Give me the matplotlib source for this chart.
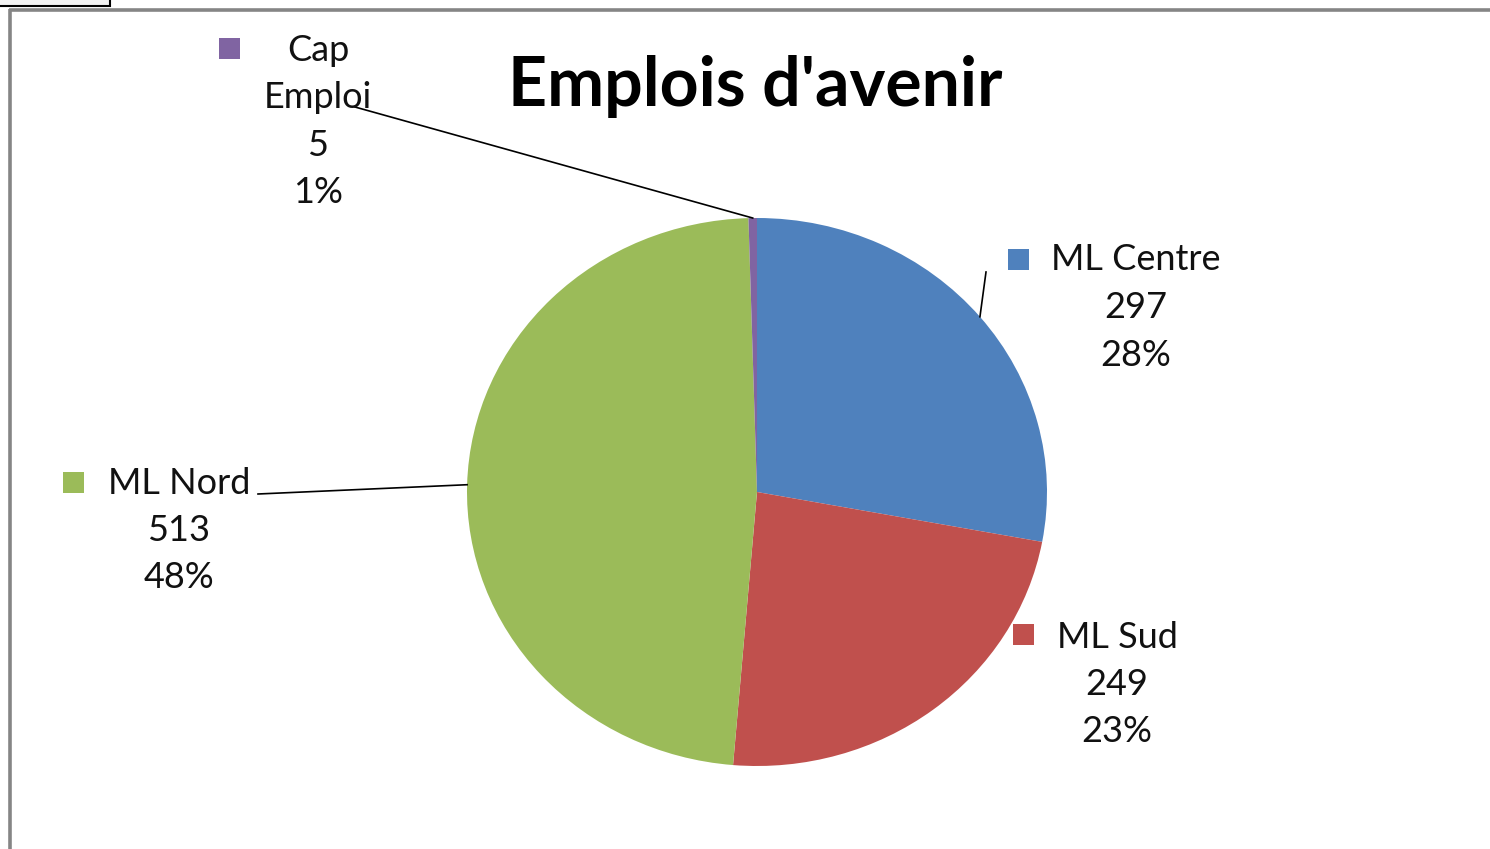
import numpy as np
import matplotlib
matplotlib.use('Agg')
import matplotlib.pyplot as plt
from matplotlib.patches import Rectangle

plt.rcParams['font.family'] = ['Lato', 'DejaVu Sans']

# data
names = ['ML Centre', 'ML Sud', 'ML Nord', 'Cap\nEmploi']
values = [297, 249, 513, 5]
pct_labels = ['28%', '23%', '48%', '1%']
colors = ['#4F81BD', '#C0504D', '#9BBB59', '#8064A2']
title = "Emplois d'avenir"

W, H = 1490, 849
fig = plt.figure(figsize=(W / 100, H / 100), dpi=100)

# pie, slightly wider than tall like the original
cx, cy, rx, ry = 757, 492, 290, 274
ax = fig.add_axes([(cx - rx) / W, 1 - (cy + ry) / H, 2 * rx / W, 2 * ry / H])
wedges, _ = ax.pie(values, colors=colors, startangle=90, counterclock=False,
                   wedgeprops=dict(linewidth=0))
ax.set_aspect('auto'); ax.set_xlim(-1, 1); ax.set_ylim(-1, 1)

# overlay in pixel coords (y down) for labels, leaders and frame
ov = fig.add_axes([0, 0, 1, 1], zorder=2)
ov.set_xlim(0, W); ov.set_ylim(H, 0); ov.axis('off')

# frame bits
ov.plot([9, W], [9.5, 9.5], color='#858585', lw=2.6, solid_capstyle='butt')
ov.plot([10, 10], [9, H], color='#858585', lw=2.6, solid_capstyle='butt')
ov.add_patch(Rectangle((-2, -4), 112, 10, fc='#f2f2f2', ec='black', lw=1.5))

ov.text(755, 86, title, ha='center', va='center', fontsize=49, fontweight='bold')

# label layout: text centre x, first line y, marker centre, leader end (or None)
layout = [
    dict(tx=1136, ty=260, mk=(1018, 259), lead=(986, 272)),
    dict(tx=1117, ty=637, mk=(1023, 634), lead=None),
    dict(tx=179, ty=483, mk=(73, 482), lead=(258, 494)),
    dict(tx=318, ty=50, mk=(229, 48), lead=(355, 107)),
]
pitch = 47.5
sq = 21
for w, name, v, p, col, lay in zip(wedges, names, values, pct_labels, colors, layout):
    lines = name.split('\n') + [str(v), p]
    for i, s in enumerate(lines):
        ov.text(lay['tx'], lay['ty'] + i * pitch, s, ha='center', va='center',
                fontsize=26, color='#111111')
    mx, my = lay['mk']
    ov.add_patch(Rectangle((mx - sq / 2, my - sq / 2), sq, sq, fc=col, ec='none'))
    if lay['lead'] is not None:
        th = np.deg2rad((w.theta1 + w.theta2) / 2)
        axp = cx + rx * np.cos(th)
        ayp = cy - ry * np.sin(th)
        ov.plot([lay['lead'][0], axp], [lay['lead'][1], ayp], color='black', lw=1.2)

fig.savefig('out.png', dpi=100)
